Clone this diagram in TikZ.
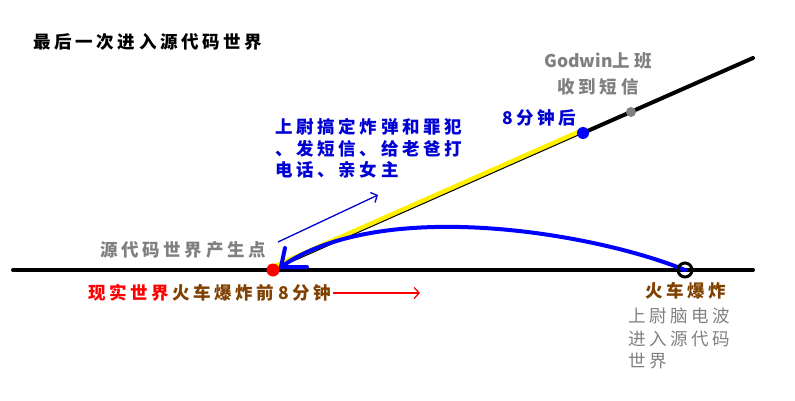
\documentclass[tikz,border=0pt]{standalone}
\usepackage{fontspec}
\usetikzlibrary{arrows.meta}
\newfontfamily\cjk[LetterSpace=21]{Noto Sans CJK SC}
\newfontfamily\cjkn{Noto Sans CJK SC}
\definecolor{tgray}{RGB}{128,128,128}
\definecolor{tbrown}{RGB}{128,64,0}
\definecolor{tblue}{RGB}{0,0,210}
\definecolor{dblue}{RGB}{0,0,255}
\definecolor{tyellow}{RGB}{255,240,0}
\tikzset{
  lbl/.style={inner sep=0pt, font=\cjk\fontsize{17.5}{21.5}\selectfont\bfseries},
  lblr/.style={inner sep=0pt, font=\cjk\fontsize{17.5}{22.5}\selectfont},
  world/.style={line width=4pt, line cap=round},
  thinarrow/.style={line width=1.3pt, -{Straight Barb[length=5pt,width=11pt]}},
}
\begin{document}
\begin{tikzpicture}[x=1pt,y=-1pt]
\useasboundingbox (0,0) rectangle (795,401);
% key points
\coordinate (L) at (13,270);
\coordinate (R) at (753,270);
\coordinate (O) at (273,270);
\coordinate (B) at (583,133);
\coordinate (G) at (631,112);
\coordinate (E) at (753,58);
\coordinate (X) at (685,270);
% horizontal line: real world
\draw[world] (L) -- (R);
% yellow band + thin line
\draw[tyellow, line width=5pt] ([yshift=2.8pt]O) -- ([yshift=2.8pt]B);
\draw[black, line width=1pt] (O) -- (B);
% thick line after blue dot
\draw[world] (B) -- (E);
% blue curve
\coordinate (T) at (281,267);
\draw[dblue, line width=4pt, line cap=round] (X) .. controls (600,235) and (395,198) .. (290,261) -- (T);
\coordinate (T1) at (285,248);
\coordinate (T2) at (307,267);
\draw[dblue, line width=4pt, line cap=round, line join=round] (T1) -- (T) -- (T2);
% dots
\fill[red] (O) circle (6.5pt);
\fill[dblue] (B) circle (6pt);
\fill[tgray] (G) circle (5pt);
\draw[black, line width=3pt] (X) circle (7pt);
% thin arrows
\coordinate (a1) at (278,242);
\coordinate (a2) at (378,195);
\draw[tblue, thinarrow] (a1) -- (a2);
\coordinate (r1) at (333,293);
\coordinate (r2) at (420,293);
\draw[red, thinarrow] (r1) -- (r2);
% texts
\node[lbl, anchor=west] (title) at (33,42) {最后一次进入源代码世界};
\node[lbl, anchor=west, align=left, text=tblue] (bomb) at (275,148.5) {上尉搞定炸弹和罪犯\\、发短信、给老爸打\\电话、亲女主};
\node[lbl, anchor=west, text=tblue] (after) at (502,118) {8分钟后};
\node[lbl, align=center, text=tgray, font=\cjk\fontsize{17.5}{26}\selectfont\bfseries] (godwin) at (598,74) {{\cjkn Godwin}上班\\收到短信};
\node[lbl, anchor=west, text=tgray] (origin) at (100,250) {源代码世界产生点};
\node[lbl, anchor=west] (real) at (88,293) {\textcolor{red}{现实世界}\hspace{3pt}\textcolor{tbrown}{火车爆炸前8分钟}};
\node[lbl, anchor=west, text=tbrown] (boom) at (645,291) {火车爆炸};
\node[lblr, anchor=west, align=left, text=tgray] (wave) at (628,338.5) {上尉脑电波\\进入源代码\\世界};
\end{tikzpicture}
\end{document}
